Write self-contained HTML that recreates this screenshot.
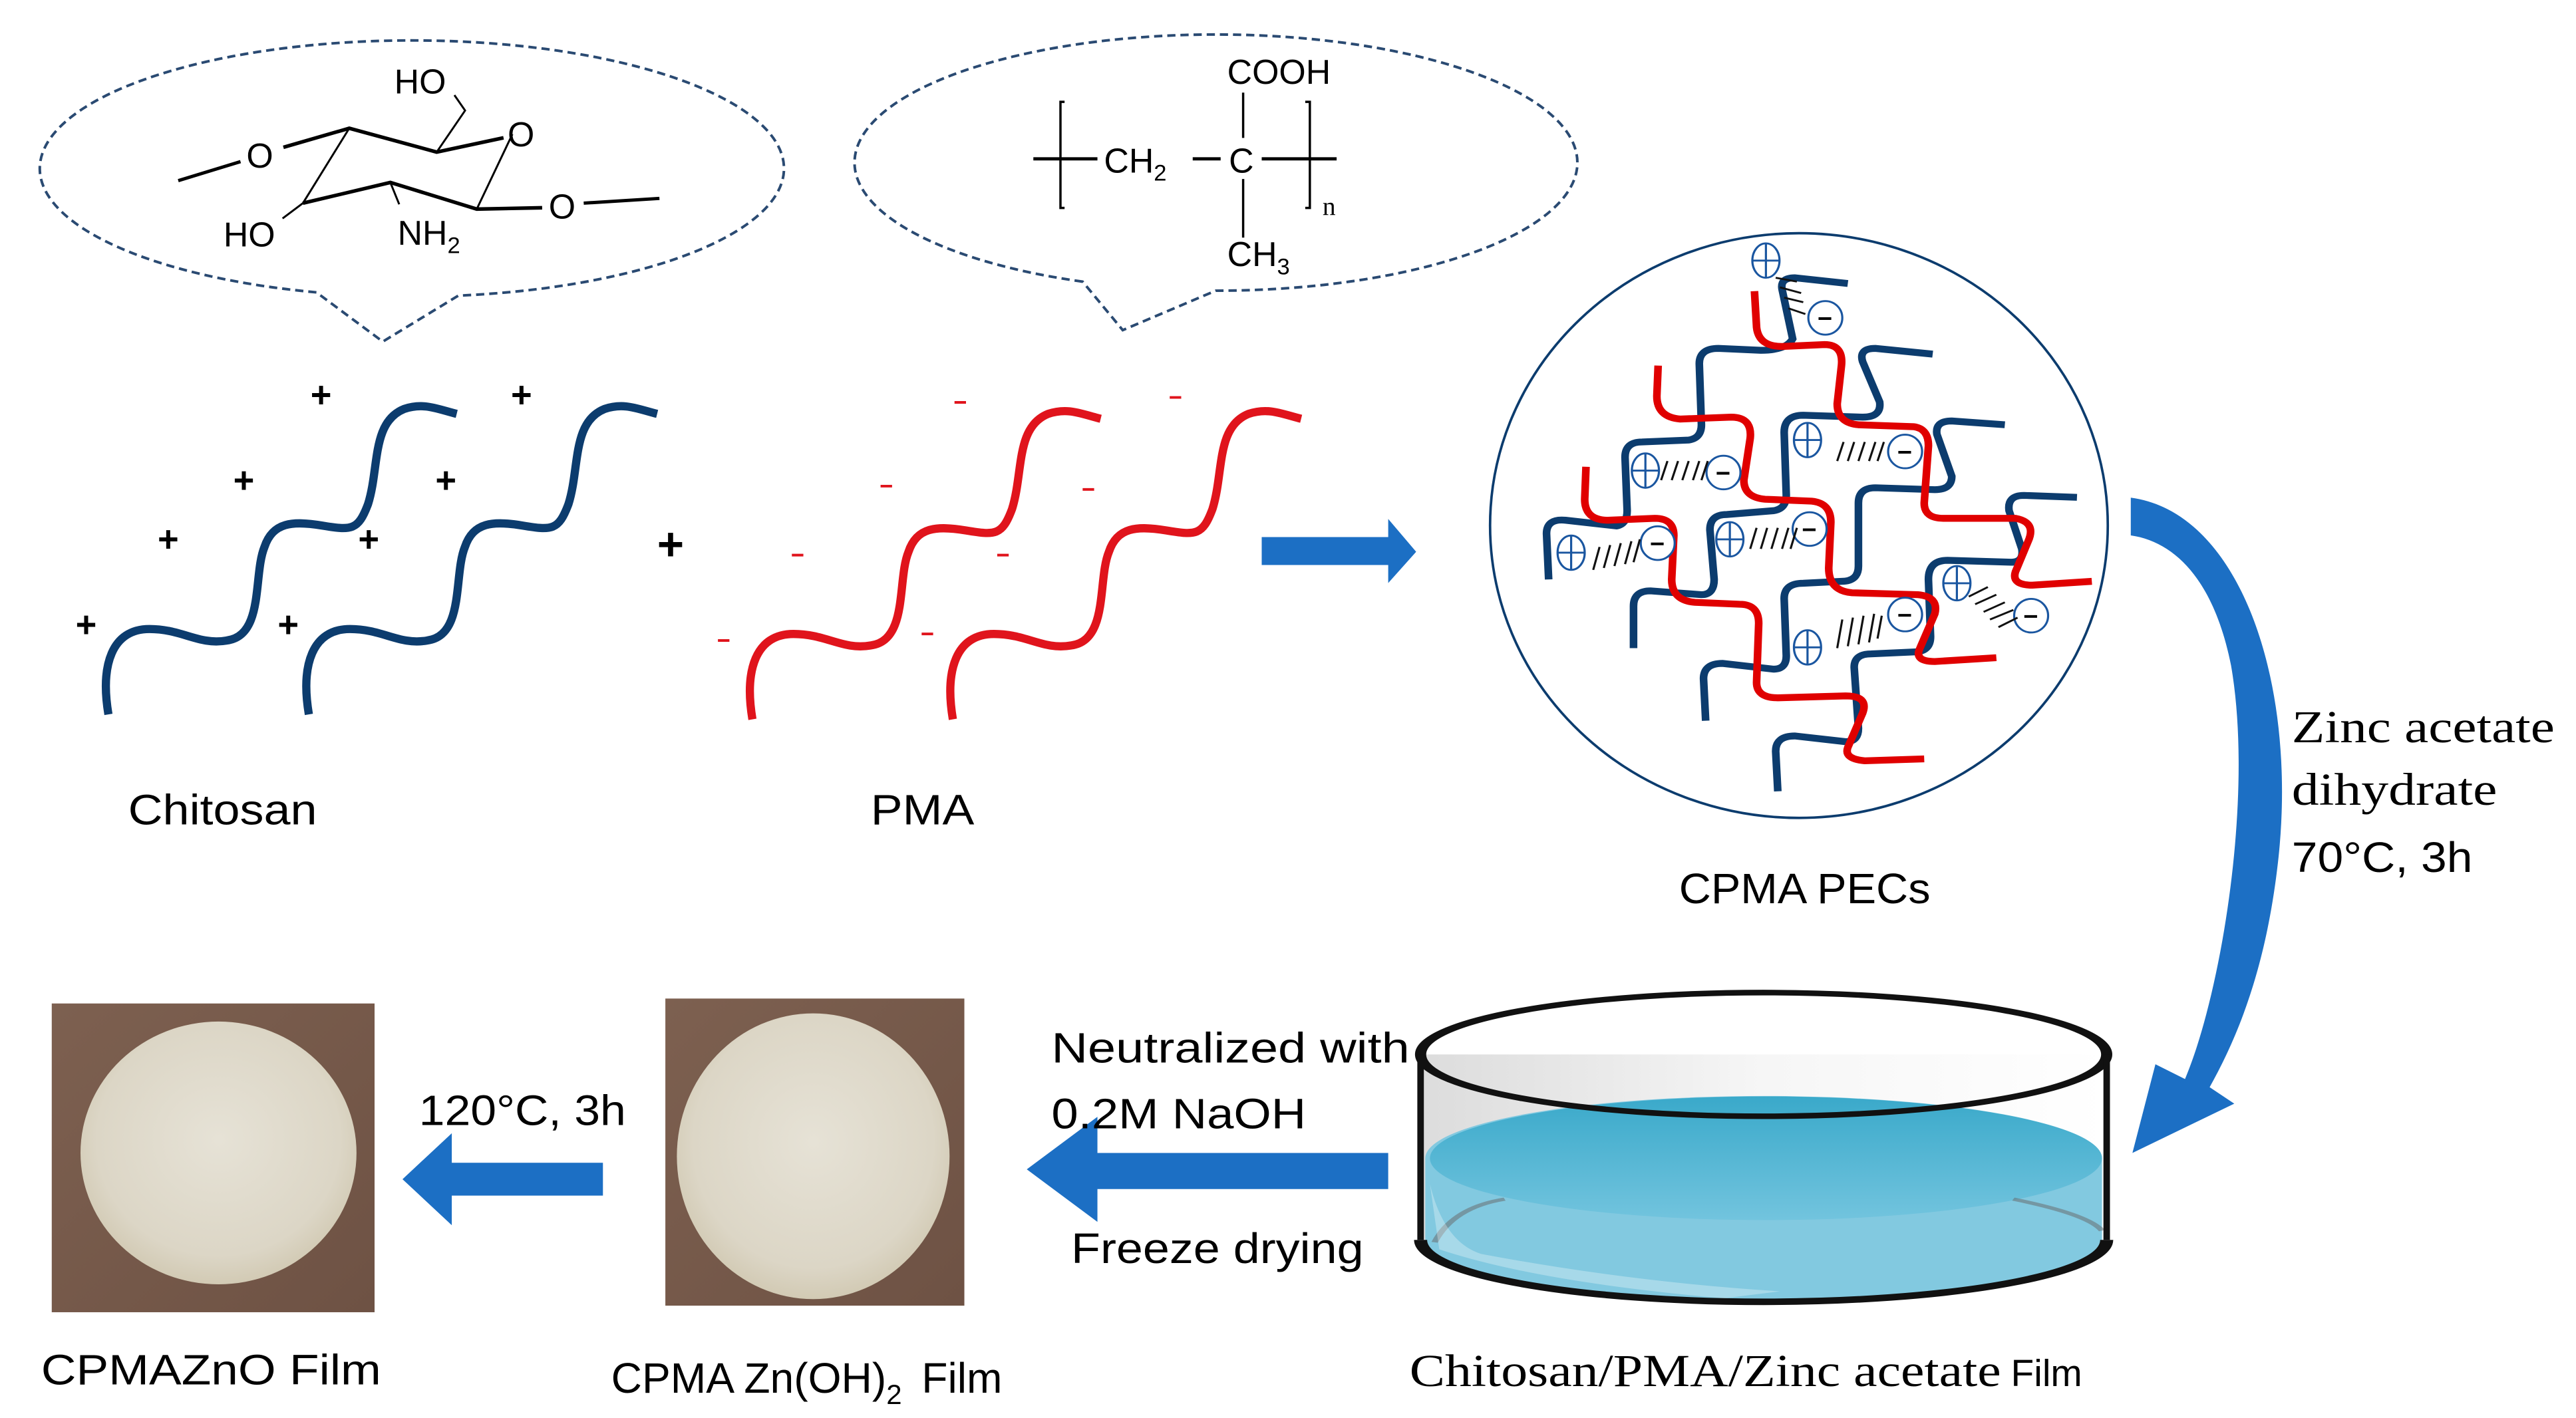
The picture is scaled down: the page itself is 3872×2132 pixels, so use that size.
<!DOCTYPE html>
<html><head><meta charset="utf-8"><style>
html,body{margin:0;padding:0;background:#fff;width:3872px;height:2132px;overflow:hidden}
svg{display:block}
.s{font-family:"Liberation Sans",sans-serif}
.r{font-family:"Liberation Serif",serif}
</style></head><body>
<svg width="3872" height="2132" viewBox="0 0 1568 863.4" preserveAspectRatio="none" xmlns="http://www.w3.org/2000/svg">
<defs>
<path id="ch" d="M0,0 C-5,-30 2,-52 25,-52 C45,-52 55,-42 72,-45 C95,-48 88,-85 95,-102 C100,-117 112,-118 130,-115 C148,-112 152,-112 158,-128 C165,-150 160,-178 180,-186 C192,-190 200,-186 212,-183" fill="none" stroke-width="5" stroke-linecap="butt"/>
<radialGradient id="disc" cx="50%" cy="45%" r="55%"><stop offset="0" stop-color="#e6e2d6"/><stop offset="0.8" stop-color="#dcd6c6"/><stop offset="1" stop-color="#d2cab4"/></radialGradient>
<linearGradient id="bg" x1="0" y1="0" x2="1" y2="1"><stop offset="0" stop-color="#7d6050"/><stop offset="1" stop-color="#6e5244"/></linearGradient>
<linearGradient id="glass" x1="0" y1="0" x2="1" y2="0"><stop offset="0" stop-color="#dcdcdc"/><stop offset="0.5" stop-color="#f6f6f6"/><stop offset="1" stop-color="#ffffff"/></linearGradient>
<linearGradient id="water" x1="0" y1="0" x2="0" y2="1"><stop offset="0" stop-color="#3aa9ca"/><stop offset="1" stop-color="#72c4de"/></linearGradient>
</defs>

<path d="M192.6,178 A226.5,78 0 1 1 279,180 L233,208 Z" fill="none" stroke="#2a4a72" stroke-width="1.6" stroke-dasharray="5,3"/>
<path d="M659,171.5 A220,78 0 1 1 740,177 L683.4,201 Z" fill="none" stroke="#2a4a72" stroke-width="1.6" stroke-dasharray="5,3"/>

<g stroke="#000" fill="none">
<path d="M108.5,110 L146.4,98.4" stroke-width="2"/>
<path d="M172.5,89.7 L212.6,78.1 L265.8,92.6 L306.5,83.9" stroke-width="2.2"/>
<path d="M265.8,92.6 L283.1,67.3 L276.6,57.9" stroke-width="1.2"/>
<path d="M212.6,78.1 L184.4,123.7" stroke-width="1.2"/>
<path d="M184.4,123.7 L237.6,111.1 L290.2,127.3 L330,126.5" stroke-width="2.2"/>
<path d="M237.6,111.1 L243,124.4" stroke-width="1.2"/>
<path d="M311.9,81.7 L290.2,127.3" stroke-width="1.2"/>
<path d="M184.4,123.7 L172,133" stroke-width="1.2"/>
<path d="M355.3,123.7 L401.4,120.8" stroke-width="2"/>
</g>
<g class="s" font-size="21" fill="#000">
<text x="240" y="57">HO</text>
<text x="150" y="102">O</text>
<text x="309" y="89">O</text>
<text x="334" y="133">O</text>
<text x="136" y="150">HO</text>
<text x="242" y="149">NH<tspan font-size="14" dy="5">2</tspan></text>
</g>

<g stroke="#000" fill="none" stroke-width="1.4">
<path d="M648,62 L645.5,62 L645.5,126.6 L648,126.6"/>
<path d="M794.5,62 L797.3,62 L797.3,126.6 L794.5,126.6"/>
<path d="M629,96.7 L668,96.7" stroke-width="2"/>
<path d="M726,96.7 L743,96.7" stroke-width="2"/>
<path d="M768,96.7 L813.6,96.7" stroke-width="2"/>
<path d="M756.7,56.4 L756.7,84 M756.7,109 L756.7,144.7"/>
</g>
<g class="s" font-size="21" fill="#000">
<text x="672" y="105">CH<tspan font-size="14" dy="5">2</tspan></text>
<text x="748" y="105">C</text>
<text x="747" y="51">COOH</text>
<text x="747" y="162">CH<tspan font-size="14" dy="5">3</tspan></text>
<text x="805" y="131" class="r" font-size="16">n</text>
</g>

<use href="#ch" x="66" y="435" stroke="#0c3c6e"/>
<use href="#ch" x="188" y="435" stroke="#0c3c6e"/>
<use href="#ch" x="458" y="438" stroke="#e0141c"/>
<use href="#ch" x="580" y="438" stroke="#e0141c"/>
<g class="s" font-size="22" fill="#000" font-weight="bold">
<text x="189" y="248">+</text><text x="311" y="248">+</text>
<text x="142" y="300">+</text><text x="265" y="300">+</text>
<text x="96" y="336">+</text><text x="218" y="336">+</text>
<text x="46" y="388">+</text><text x="169" y="388">+</text>
</g>
<text x="400" y="341" class="s" font-size="28" font-weight="bold">+</text>
<g stroke="#e0141c" stroke-width="1.6">
<path d="M581,245h7 M712,242h7 M536,296h7 M659,298h7 M482,338h7 M607,338h7 M437,390h7 M561,386h7"/>
</g>

<path d="M768,327 L845,327 L845,316 L862,336 L845,355 L845,344 L768,344 Z" fill="#1c6fc4"/>

<ellipse cx="1095" cy="320" rx="188" ry="178" fill="none" stroke="#0c3c6e" stroke-width="1.5"/>
<g transform="translate(891,129.6) scale(0.2583,0.2325)" fill="none" stroke-linecap="butt">
<g stroke="#0c3c6e" stroke-width="18">
<path d="M200,960 L195,840 Q195,800 240,805 L360,820 Q385,815 385,780 L380,640 Q380,600 420,600 L530,595 Q560,590 560,555 L555,395 Q555,355 600,355 L700,360 Q760,360 775,330 L750,200 Q745,170 780,170 L905,185"/>
<path d="M400,1140 L400,1030 Q400,990 440,990 L560,1000 Q590,1000 590,960 L580,830 Q580,790 620,790 L730,780 Q760,775 760,740 L755,575 Q755,530 800,530 L940,535 Q985,535 980,495 L940,390 Q930,355 970,355 L1105,370"/>
<path d="M570,1330 L565,1220 Q565,1180 610,1180 L730,1195 Q760,1195 760,1160 L755,1010 Q755,970 800,970 L890,965 Q930,965 930,925 L930,760 Q930,720 970,720 L1110,725 Q1150,725 1150,690 L1115,580 Q1110,545 1150,545 L1275,555"/>
<path d="M740,1515 L735,1410 Q735,1370 780,1370 L900,1385 Q930,1385 930,1350 L920,1190 Q920,1155 960,1155 L1060,1150 Q1100,1150 1100,1110 L1095,960 Q1095,910 1140,910 L1290,915 Q1320,915 1315,880 L1285,780 Q1280,740 1320,740 L1445,745"/>
</g>
<g stroke="#e00000" stroke-width="18">
<path d="M685,205 L690,300 Q695,350 750,350 L850,345 Q895,345 890,400 L880,500 Q880,550 930,555 L1060,560 Q1095,565 1095,610 L1085,760 Q1085,800 1130,800 L1300,800 Q1350,810 1330,860 L1300,940 Q1290,975 1340,975 L1480,965"/>
<path d="M458,400 L455,480 Q455,535 510,540 L630,535 Q680,535 675,590 L660,700 Q660,745 710,750 L820,755 Q865,760 865,810 L860,930 Q860,990 915,995 L1070,1000 Q1120,1005 1110,1050 L1075,1140 Q1060,1175 1110,1175 L1255,1165"/>
<path d="M288,665 L285,750 Q285,805 340,805 L450,800 Q495,800 495,845 L490,960 Q490,1015 545,1020 L650,1025 Q695,1025 695,1075 L690,1230 Q690,1270 740,1270 L900,1265 Q955,1265 940,1310 L905,1400 Q895,1430 945,1435 L1085,1430"/>
</g>
<g stroke="#1a56a0" stroke-width="5" fill="#fff">
<g transform="translate(712,125)"><ellipse rx="32" ry="45"/><path d="M-32,0 H32 M0,-45 V45"/></g>
<g transform="translate(810,595)"><ellipse rx="32" ry="45"/><path d="M-32,0 H32 M0,-45 V45"/></g>
<g transform="translate(428,675)"><ellipse rx="32" ry="45"/><path d="M-32,0 H32 M0,-45 V45"/></g>
<g transform="translate(253,890)"><ellipse rx="32" ry="45"/><path d="M-32,0 H32 M0,-45 V45"/></g>
<g transform="translate(627,855)"><ellipse rx="32" ry="45"/><path d="M-32,0 H32 M0,-45 V45"/></g>
<g transform="translate(810,1138)"><ellipse rx="32" ry="45"/><path d="M-32,0 H32 M0,-45 V45"/></g>
<g transform="translate(1162,970)"><ellipse rx="32" ry="45"/><path d="M-32,0 H32 M0,-45 V45"/></g>
<ellipse cx="852" cy="275" rx="40" ry="44"/><ellipse cx="1040" cy="625" rx="40" ry="44"/><ellipse cx="612" cy="680" rx="40" ry="44"/>
<ellipse cx="457" cy="865" rx="40" ry="44"/><ellipse cx="815" cy="828" rx="40" ry="44"/><ellipse cx="1040" cy="1052" rx="40" ry="44"/><ellipse cx="1337" cy="1055" rx="40" ry="44"/>
</g>
<g stroke="#000" stroke-width="7">
<path d="M836,277h30 M1024,627h30 M596,682h30 M441,867h30 M799,830h30 M1024,1054h30 M1321,1057h30"/>
</g>
<g stroke="#111" stroke-width="5">
<path d="M735,170l50,10 M745,195l50,15 M755,222l45,12 M765,250l40,15"/>
<path d="M880,650l15,-50 M905,650l15,-50 M930,650l15,-50 M955,650l15,-50 M975,650l15,-50"/>
<path d="M465,700l15,-50 M490,700l15,-50 M515,700l15,-50 M540,700l15,-50 M560,700l15,-50"/>
<path d="M305,935l15,-60 M330,930l15,-60 M355,925l15,-60 M380,920l15,-60 M400,915l15,-60"/>
<path d="M675,880l15,-55 M700,880l15,-55 M725,880l15,-55 M750,880l15,-55 M770,880l15,-55"/>
<path d="M880,1140l12,-75 M905,1135l12,-75 M930,1130l12,-75 M955,1125l12,-75 M975,1115l10,-60"/>
<path d="M1190,1005l45,-25 M1205,1025l50,-25 M1225,1045l50,-25 M1240,1065l55,-25 M1260,1085l45,-25"/>
</g>
</g>

<path d="M1297,303 C1365,312 1400,420 1386,530 C1378,595 1360,635 1345,662 L1360,672 L1298,702 L1312,648 L1330,657 C1352,605 1372,485 1358,405 C1348,355 1325,330 1297,326 Z" fill="#1c6fc4"/>

<g transform="translate(850.5,593) scale(0.2841,0.1421)">
<path d="M50,345 L50,1140 A735,265 0 0 0 1520,1140 L1520,345 Z" fill="url(#glass)"/>
<path d="M60,790 A720,265 0 0 1 1510,790 L1510,1140 A725,260 0 0 1 60,1140 Z" fill="#82c9e0"/>
<ellipse cx="790" cy="790" rx="720" ry="265" fill="url(#water)"/>
<path d="M80,1150 Q120,1000 230,965" stroke="#666" stroke-width="14" fill="none" opacity="0.5"/>
<path d="M1320,965 Q1480,1030 1510,1100" stroke="#666" stroke-width="14" fill="none" opacity="0.5"/>
<path d="M70,900 Q100,1150 180,1200 Q500,1320 820,1360 L700,1390 Q300,1320 90,1180 Z" fill="#fff" opacity="0.3"/>
<ellipse cx="785" cy="345" rx="735" ry="265" fill="none" stroke="#111" stroke-width="24"/>
<path d="M50,345 L50,1140 M1520,345 L1520,1140" fill="none" stroke="#111" stroke-width="14"/>
<path d="M50,1140 A735,265 0 0 0 1520,1140" fill="none" stroke="#111" stroke-width="28"/>
</g>

<rect x="31.5" y="611" width="196.5" height="188" fill="url(#bg)"/>
<ellipse cx="133" cy="702" rx="84" ry="80" fill="url(#disc)"/>
<rect x="405" y="608" width="182" height="187" fill="url(#bg)"/>
<ellipse cx="495" cy="704" rx="83" ry="87" fill="url(#disc)"/>

<path d="M367,708 L275,708 L275,690 L245,718 L275,746 L275,728 L367,728 Z" fill="#1c6fc4"/>
<path d="M845,702 L668,702 L668,680 L625,712 L668,744 L668,724 L845,724 Z" fill="#1c6fc4"/>

<g class="s" font-size="26" fill="#000">
<text x="78" y="502" textLength="115" lengthAdjust="spacingAndGlyphs">Chitosan</text>
<text x="530" y="502" textLength="63" lengthAdjust="spacingAndGlyphs">PMA</text>
<text x="1022" y="550" textLength="153" lengthAdjust="spacingAndGlyphs">CPMA PECs</text>
<text x="1395" y="531" textLength="110" lengthAdjust="spacingAndGlyphs">70°C, 3h</text>
<text x="640" y="647" textLength="218" lengthAdjust="spacingAndGlyphs">Neutralized with</text>
<text x="640" y="687" textLength="155" lengthAdjust="spacingAndGlyphs">0.2M NaOH</text>
<text x="652" y="769" textLength="178" lengthAdjust="spacingAndGlyphs">Freeze drying</text>
<text x="255" y="685" textLength="126" lengthAdjust="spacingAndGlyphs">120°C, 3h</text>
<text x="25" y="843" textLength="207" lengthAdjust="spacingAndGlyphs">CPMAZnO  Film</text>
<text x="372" y="848">CPMA Zn(OH)<tspan font-size="17" dy="7">2</tspan><tspan dy="-7" dx="12">Film</tspan></text>
</g>
<g class="r" font-size="28" fill="#000">
<text x="1395" y="452" textLength="160" lengthAdjust="spacingAndGlyphs">Zinc acetate</text>
<text x="1395" y="490" textLength="125" lengthAdjust="spacingAndGlyphs">dihydrate</text>
<text x="858" y="844" textLength="360" lengthAdjust="spacingAndGlyphs">Chitosan/PMA/Zinc acetate</text>
<text x="1224" y="844" class="s" font-size="23">Film</text>
</g>
</svg>
</body></html>
